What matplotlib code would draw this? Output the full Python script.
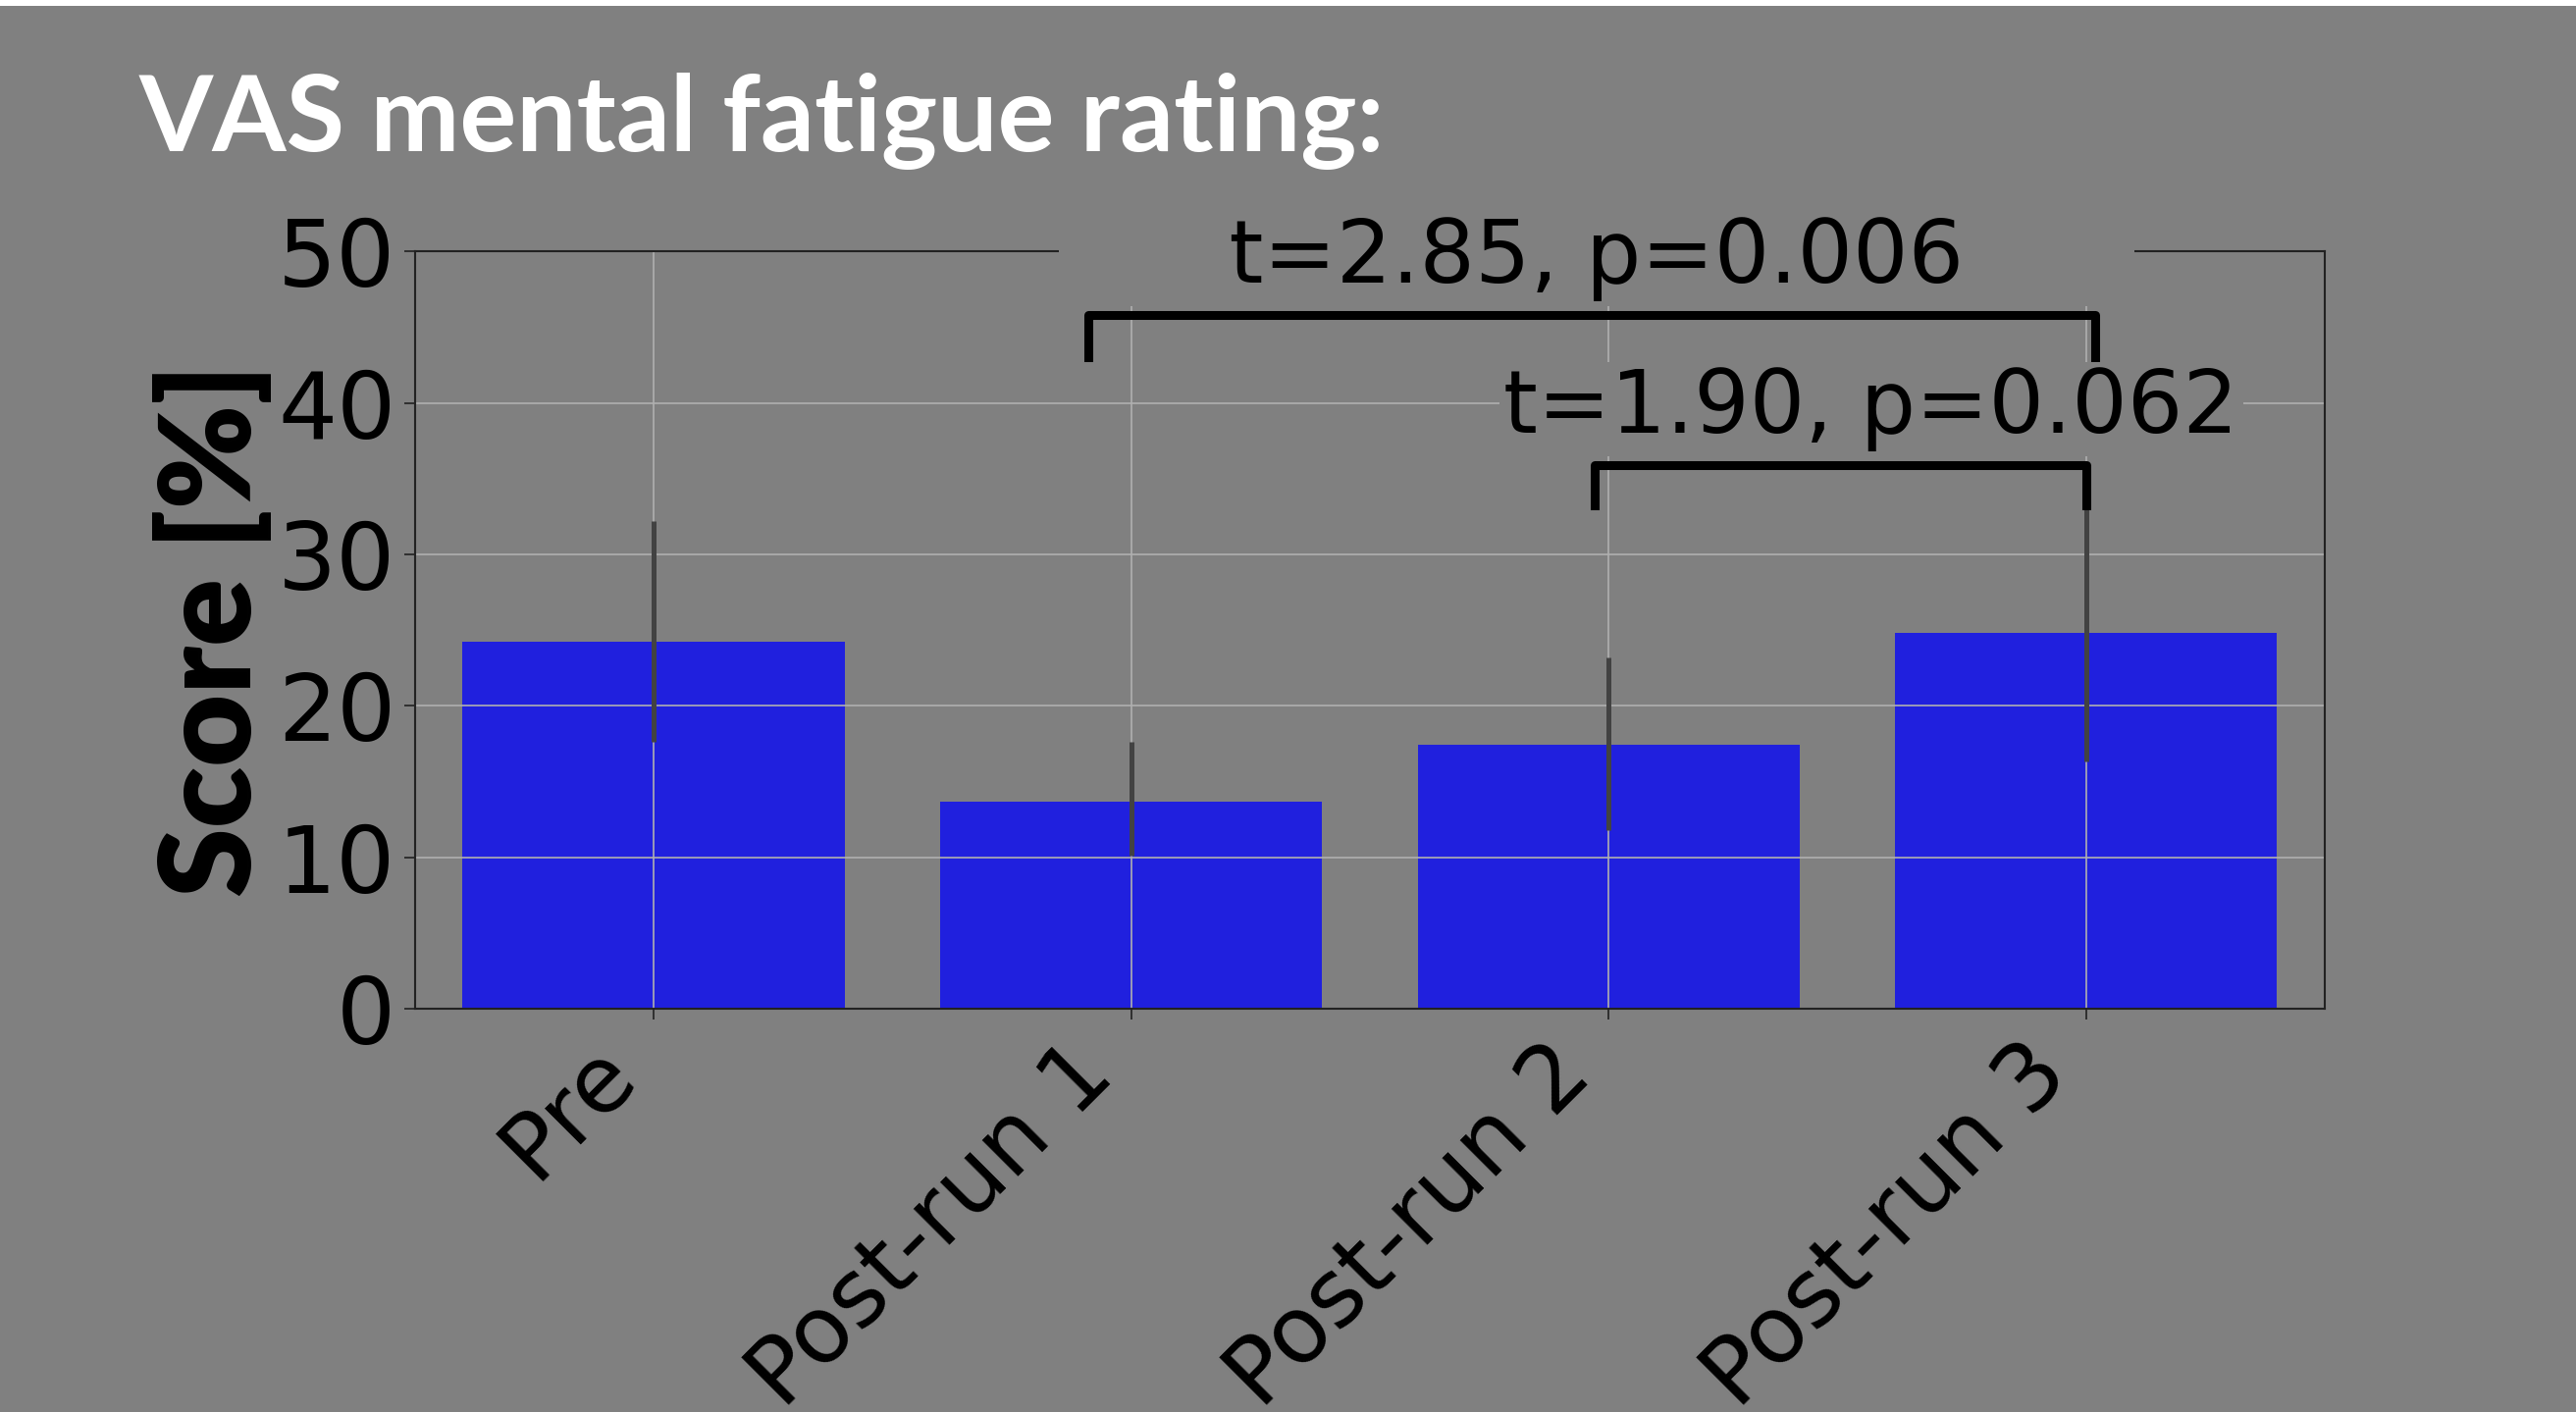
import matplotlib
matplotlib.use("Agg")
import matplotlib.pyplot as plt
import numpy as np
from matplotlib.patches import Rectangle

# data
categories = ["Pre", "Post-run 1", "Post-run 2", "Post-run 3"]
means = [24.2, 13.7, 17.4, 24.8]
ci_low = [17.6, 10.1, 11.8, 16.3]
ci_high = [32.2, 17.6, 23.2, 33.2]

# significance brackets: (x_left, x_right, y_bar, y_leg_bottom, label, x_label, y_label)
brackets = [
    (0.91, 3.02, 45.8, 43.0, "      t=2.85, p=0.006      ", 1.975, 49.5),
    (1.97, 3.00, 35.9, 33.2, "t=1.90, p=0.062", 2.55, 39.6),
]

BG = "#808080"
BAR = "#2020de"

fig = plt.figure(figsize=(26.25, 14.39), dpi=100, facecolor=BG)
ax = fig.add_axes([0.161, 0.2856, 0.9025 - 0.161, 0.822 - 0.2856])
ax.set_facecolor(BG)

x = np.arange(len(categories))
ax.bar(x, means, width=0.8, color=BAR, zorder=1)

# confidence intervals as plain vertical lines (no caps)
for xi, lo, hi in zip(x, ci_low, ci_high):
    ax.plot([xi, xi], [lo, hi], color="#424242", lw=3.6, solid_capstyle="butt", zorder=3)

ax.grid(True, color="#b0b0b0", lw=1.2, zorder=1.5)
ax.set_axisbelow("line")

ax.set_xlim(-0.5, 3.5)
ax.set_ylim(0, 50)
ax.set_yticks([0, 10, 20, 30, 40, 50])
ax.set_xticks(x)
ax.set_xticklabels(categories, rotation=45, ha="right")
ax.tick_params(axis="both", labelsize=68, length=8, width=1.2, color="#222222", pad=6)

for sp in ax.spines.values():
    sp.set_color("#222222")
    sp.set_linewidth(1.5)

ax.set_ylabel("Score [%]", fontsize=92, fontweight="heavy", family="Lato", labelpad=4)

for x1, x2, yb, yl, label, xlab, ylab in brackets:
    ax.plot([x1, x1, x2, x2], [yl, yb, yb, yl], color="black", lw=6.5,
            solid_joinstyle="round", zorder=5, clip_on=False)
    ax.text(xlab, ylab, label, ha="center", va="center", fontsize=64,
            color="black", zorder=6, clip_on=False,
            bbox=dict(boxstyle="square,pad=0.05", facecolor=BG, edgecolor="none"))

fig.text(0.054, 0.893, "VAS mental fatigue rating:", color="white", fontsize=78,
         fontweight="bold", family="Lato", ha="left", va="baseline")

# thin white strip along the top edge, as in the source slide
fig.patches.append(Rectangle((0, 1 - 6 / 1439), 1, 6 / 1439, transform=fig.transFigure,
                             facecolor="white", edgecolor="none"))

fig.savefig("out.png", dpi=100, facecolor=BG)
